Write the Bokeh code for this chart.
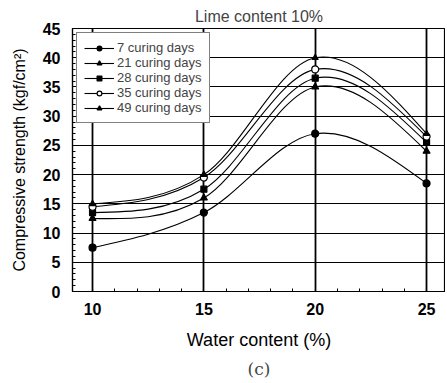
import numpy as np
from bokeh.plotting import figure
from bokeh.models import Legend, LegendItem, Range1d, FixedTicker, Title
from bokeh.embed import file_html
from bokeh.resources import INLINE

water = [10, 15, 20, 25]
series_names = ["7 curing days", "21 curing days", "28 curing days", "35 curing days", "49 curing days"]
d7 = [7.5, 13.5, 27.0, 18.5]
d21 = [12.5, 16.0, 35.0, 24.0]
d28 = [13.5, 17.5, 36.5, 25.5]
d35 = [14.5, 19.5, 38.0, 26.5]
d49 = [15.0, 20.0, 40.0, 27.0]
series = [d7, d21, d28, d35, d49]
markers = ["circle", "triangle", "square", "circle", "triangle"]
fills = ["black", "black", "black", "white", "black"]
msizes = [7, 7, 6, 7, 6]

FONT = "Liberation Sans"


def smooth_bezier(xs, ys):
    # Catmull-Rom style tangents inside, natural tangents at the ends
    xs = np.asarray(xs, float)
    ys = np.asarray(ys, float)
    n = len(xs)
    h = np.diff(xs)
    m = np.zeros(n)
    for i in range(1, n - 1):
        m[i] = (ys[i + 1] - ys[i - 1]) / (xs[i + 1] - xs[i - 1])
    m[0] = (3 * (ys[1] - ys[0]) / h[0] - m[1]) / 2
    m[-1] = (3 * (ys[-1] - ys[-2]) / h[-1] - m[-2]) / 2
    x0 = xs[:-1]; y0 = ys[:-1]; x1 = xs[1:]; y1 = ys[1:]
    cx0 = x0 + h / 3; cy0 = y0 + m[:-1] * h / 3
    cx1 = x1 - h / 3; cy1 = y1 - m[1:] * h / 3
    return dict(x0=x0, y0=y0, x1=x1, y1=y1, cx0=cx0, cy0=cy0, cx1=cx1, cy1=cy1)


p = figure(width=445, height=382, output_backend="svg", toolbar_location=None,
           x_range=Range1d(9.1, 25.85), y_range=Range1d(0, 45),
           min_border_left=72, min_border_right=0, min_border_top=28, min_border_bottom=90)

p.title.text = "Lime content 10%"
p.title.align = "center"
p.title.text_font = FONT
p.title.text_font_size = "16px"
p.title.text_font_style = "normal"
p.title.standoff = 8

p.outline_line_color = "black"
p.outline_line_width = 1.2

items = []
for name, ys, mk, fc, ms in zip(series_names, series, markers, fills, msizes):
    bz = smooth_bezier(water, ys)
    r1 = p.bezier(source=bz, x0="x0", y0="y0", x1="x1", y1="y1",
                  cx0="cx0", cy0="cy0", cx1="cx1", cy1="cy1",
                  line_color="black", line_width=1.1)
    r2 = p.scatter(water, ys, marker=mk, size=ms, fill_color=fc,
                   line_color="black", line_width=1.2)
    items.append(LegendItem(label=name, renderers=[r1, r2]))

legend = Legend(items=items, location="top_left")
legend.label_text_font = FONT
legend.label_text_font_size = "13px"
legend.label_height = 12
legend.glyph_height = 12
legend.glyph_width = 30
legend.spacing = 0
legend.padding = 7
legend.margin = 4
legend.border_line_color = "black"
legend.border_line_width = 1
legend.background_fill_alpha = 1
legend.label_standoff = 3
p.add_layout(legend)

p.xaxis.ticker = FixedTicker(ticks=[10, 15, 20, 25],
                             minor_ticks=[x for x in range(9, 27)])
p.yaxis.ticker = FixedTicker(ticks=list(range(0, 50, 5)),
                             minor_ticks=list(range(0, 46)))

for ax in (p.xaxis[0], p.yaxis[0]):
    ax.axis_line_color = "black"
    ax.axis_line_width = 1.2
    ax.major_tick_in = 5
    ax.major_tick_out = 0
    ax.minor_tick_in = 3
    ax.minor_tick_out = 0
    ax.major_tick_line_color = "black"
    ax.minor_tick_line_color = "black"
    ax.major_label_text_font = FONT
    ax.major_label_text_font_size = "16px"
    ax.major_label_text_font_style = "bold"
    ax.major_label_text_color = "black"
    ax.axis_label_text_font = FONT
    ax.axis_label_text_font_style = "normal"
    ax.axis_label_text_color = "black"

p.xaxis.axis_label = "Water content (%)"
p.yaxis.axis_label = "Compressive strength (kgf/cm\u00b2)"
p.xaxis.axis_label_text_font_size = "18px"
p.yaxis.axis_label_text_font_size = "16px"
p.xaxis.major_label_standoff = 11
p.yaxis.major_label_standoff = 12
p.xaxis.axis_label_standoff = 12
p.yaxis.axis_label_standoff = 12

p.xgrid.grid_line_color = "black"
p.xgrid.grid_line_width = 1.8
p.ygrid.grid_line_color = "black"
p.ygrid.grid_line_width = 1.2

cap = Title(text="(c)", align="center", text_font="DejaVu Serif",
            text_font_size="17px", text_font_style="normal", standoff=8)
p.add_layout(cap, "below")

open("out.html", "w").write(file_html(p, INLINE))
